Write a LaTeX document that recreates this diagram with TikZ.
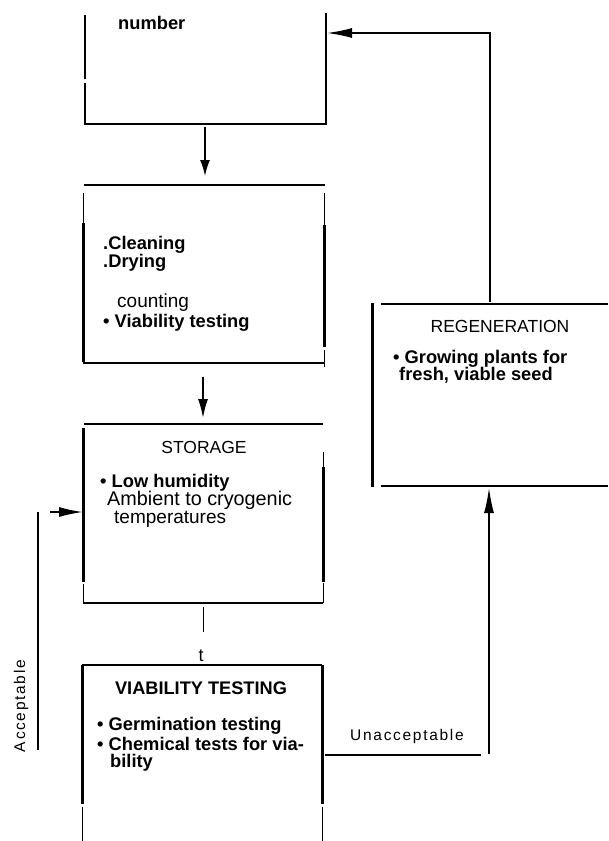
\documentclass[tikz,border=0pt]{standalone}
\usepackage{fontspec}
\setmainfont{Liberation Sans}
\newfontfamily\spacedfont[LetterSpace=11]{Liberation Sans}
\usetikzlibrary{arrows.meta}
\begin{document}
\begin{tikzpicture}[x=1pt,y=-1pt,
  thk/.style={line width=3pt},
  med/.style={line width=2.3pt},
  thn/.style={line width=1pt},
  arr/.style={-{Latex[length=#1,width=10pt]}, line width=1.7pt},
  arr/.default=20pt,
  bt/.style={anchor=base west, inner sep=0pt, font=\bfseries\fontsize{18.3}{20}\selectfont},
  rt/.style={anchor=base west, inner sep=0pt, font=\fontsize{19}{20}\selectfont},
  ttl/.style={anchor=base, inner sep=0pt, font=\fontsize{17.5}{20}\selectfont},
  btl/.style={anchor=base, inner sep=0pt, font=\bfseries\fontsize{18.2}{20}\selectfont},
  lbl/.style={anchor=base, inner sep=0pt, font=\spacedfont\fontsize{15.5}{18}\selectfont}
]
\useasboundingbox (0,0) rectangle (608,841);

% ---------- box 1 ----------
\draw[med] (85,15) -- (85,79);
\draw[med] (85,83) -- (85,124) -- (326,124) -- (326,13);
\node[bt] (num) at (118,29) {number};

% ---------- box 2 ----------
\draw[med] (84,185) -- (325,185);
\draw[thn] (83,193) -- (83,223);
\draw[thk] (83,223) -- (83,362);
\draw[med] (83,363) -- (324,363);
\draw[thn] (324,193) -- (324,225);
\draw[thk] (324,225) -- (324,347);
\draw[thn] (324,350) -- (324,367);
\node[bt] (clean) at (103,249) {.Cleaning};
\node[bt] (dry) at (103,267) {.Drying};
\node[rt] (count) at (117,307) {counting};
\node[bt] (viab) at (103,327) {\textbullet\ Viability testing};

% ---------- storage ----------
\draw[med] (84,424) -- (323,424);
\draw[thk] (83,428) -- (83,582);
\draw[thn] (83,584) -- (83,603);
\draw[med] (83,603) -- (323,603);
\draw[thn] (323,452) -- (323,467);
\draw[thk] (323,467) -- (323,582);
\draw[thn] (323,583) -- (323,603);
\node[ttl] (stor) at (204,453) {STORAGE};
\node[bt] (low) at (100,487) {\textbullet\ Low humidity};
\node[rt] (amb) at (107,505) {\fontsize{19.8}{20}\selectfont Ambient to cryogenic};
\node[rt] (temp) at (114,523) {temperatures};
\draw[thn] (203,607) -- (203,632);
\node[anchor=base, inner sep=0pt, font=\fontsize{18}{20}\selectfont] (tt) at (201,661) {t};

% ---------- viability testing ----------
\draw[med] (82,665) -- (322,665);
\draw[thk] (82,665) -- (82,804);
\draw[thk] (322,665) -- (322,804);
\draw[thn] (82,807) -- (82,841);
\draw[thn] (322,807) -- (322,841);
\node[btl] (vt) at (201,694) {VIABILITY TESTING};
\node[bt] (germ) at (97,730) {\textbullet\ Germination testing};
\node[bt] (chem) at (97,750) {\textbullet\ Chemical tests for via-};
\node[bt] (bil) at (110,767) {bility};

% ---------- regeneration ----------
\draw[thk] (372,303) -- (372,487);
\draw[med] (381,304) -- (608,304);
\draw[med] (381,486) -- (608,486);
\node[ttl] (regen) at (500,332) {REGENERATION};
\node[bt] (grow) at (393,363) {\textbullet\ Growing plants for};
\node[bt] (fresh) at (399,380) {fresh, viable seed};

% ---------- connectors ----------
\coordinate (b1out) at (205,127);
\coordinate (b2in) at (205,176);
\coordinate (b2out) at (203,377);
\coordinate (stin) at (203,418);
\coordinate (accbot) at (38,750);
\coordinate (acctop) at (38,512);
\coordinate (accs) at (50,512);
\coordinate (acce) at (83,512);
\coordinate (unS) at (325,755);
\coordinate (unE) at (481,755);
\coordinate (upS) at (489,754);
\coordinate (upE) at (489,488);
\coordinate (rgS) at (490,302);
\coordinate (rgC) at (490,33);
\coordinate (b1in) at (327,33);

\draw[arr=16pt] (b1out) -- (b2in);
\draw[arr=19pt] (b2out) -- (stin);
\draw[line width=1.8pt] (accbot) -- (acctop);
\draw[arr=24pt] (accs) -- (acce);
\draw[line width=1.4pt] (unS) -- (unE);
\draw[arr=25pt, line width=1.4pt] (upS) -- (upE);
\draw[arr=25pt, line width=1.5pt] (rgS) -- (rgC) -- (b1in);

\node[lbl, rotate=90] (acc) at (25,706) {Acceptable};
\node[lbl] (unacc) at (407,740) {Unacceptable};
\end{tikzpicture}
\end{document}
